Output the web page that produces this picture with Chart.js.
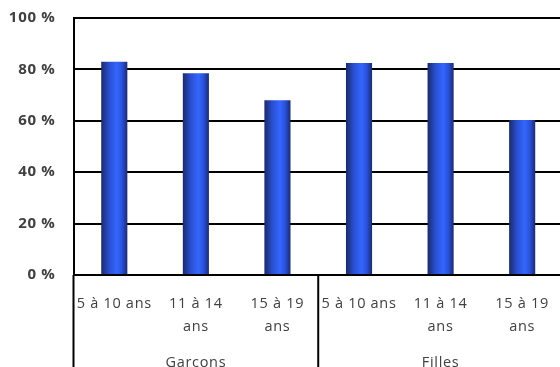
<!DOCTYPE html>
<html>
<head>
<meta charset="utf-8">
<script src="https://cdn.jsdelivr.net/npm/chart.js@4"></script>
<style>
  html, body { margin: 0; padding: 0; background: #fff; overflow: hidden; width: 560px; height: 367px; }
</style>
</head>
<body>
<canvas id="chart" width="566" height="370"></canvas>
<script>
// age groups (two-line where the label wraps)
const ages = [['5 à 10 ans'], ['11 à 14', 'ans'], ['15 à 19', 'ans'], ['5 à 10 ans'], ['11 à 14', 'ans'], ['15 à 19', 'ans']];
const groups = ['Garcons', 'Filles'];
const values = [83, 78.5, 68, 82.5, 82.5, 60.3];

const barPct = 0.32;
const textColor = '#404040';

function barGradient(ctx) {
  const chart = ctx.chart;
  const x = chart.scales.x;
  if (!x || ctx.dataIndex === undefined) return '#3366ff';
  const c = x.getPixelForValue(ctx.dataIndex);
  const w = x.width / ages.length * barPct;
  if (!isFinite(c) || !isFinite(w) || w <= 0) return '#3366ff';
  const g = chart.ctx.createLinearGradient(c - w / 2, 0, c + w / 2, 0);
  g.addColorStop(0, '#1b2a68');
  g.addColorStop(0.3, '#2a4fd0');
  g.addColorStop(0.6, '#3366ff');
  g.addColorStop(0.8, '#2a50d8');
  g.addColorStop(1, '#1a2b6e');
  return g;
}

// slightly loose text, like the original (canvas resets state on resize, so set it each time)
const spacing = {
  id: 'spacing',
  beforeUpdate(chart) { chart.ctx.letterSpacing = '0.7px'; },
  beforeDraw(chart) { chart.ctx.letterSpacing = '0.7px'; }
};

// vertical lines of the category table under the axis
const tableLines = {
  id: 'tableLines',
  afterDraw(chart) {
    const x = chart.scales.x;
    const ctx = chart.ctx;
    const bottom = chart.chartArea.bottom;
    const sep = (x.getPixelForValue(2) + x.getPixelForValue(3)) / 2;
    ctx.save();
    ctx.strokeStyle = '#000';
    ctx.lineWidth = 2;
    ctx.beginPath();
    ctx.moveTo(chart.chartArea.left, bottom);
    ctx.lineTo(chart.chartArea.left, chart.height);
    ctx.moveTo(sep, bottom);
    ctx.lineTo(sep, chart.height);
    ctx.stroke();
    ctx.restore();
  }
};

new Chart(document.getElementById('chart'), {
  type: 'bar',
  data: {
    labels: ages,
    datasets: [{
      data: values,
      backgroundColor: barGradient,
      borderWidth: 0,
      barPercentage: barPct,
      categoryPercentage: 1
    }]
  },
  options: {
    responsive: false,
    animation: false,
    layout: { padding: { left: 0, top: 18, right: 0, bottom: 0 } },
    plugins: { legend: { display: false }, tooltip: { enabled: false } },
    scales: {
      x: {
        grid: { display: false, drawTicks: false },
        border: { display: true, color: '#000', width: 2 },
        ticks: {
          color: textColor,
          font: { family: 'Open Sans', size: 14.5, lineHeight: '23px' },
          padding: 17,
          maxRotation: 0,
          autoSkip: false
        }
      },
      x2: {
        type: 'category',
        labels: groups,
        position: 'bottom',
        offset: true,
        grid: { display: false, drawTicks: false },
        border: { display: false },
        ticks: {
          color: textColor,
          font: { family: 'Open Sans', size: 14.5, lineHeight: '15px' },
          padding: 0
        }
      },
      y: {
        min: 0,
        max: 100,
        afterFit: s => { s.width = 73.5; s.paddingTop = 0; s.paddingBottom = 0; },
        ticks: {
          stepSize: 20,
          color: textColor,
          padding: 18,
          font: { family: 'Open Sans', size: 15, weight: 'bold' },
          callback: v => v + ' %'
        },
        grid: { color: '#000', lineWidth: 2, drawTicks: false },
        border: { display: true, color: '#000', width: 2 }
      }
    }
  },
  plugins: [spacing, tableLines]
});
</script>
</body>
</html>
